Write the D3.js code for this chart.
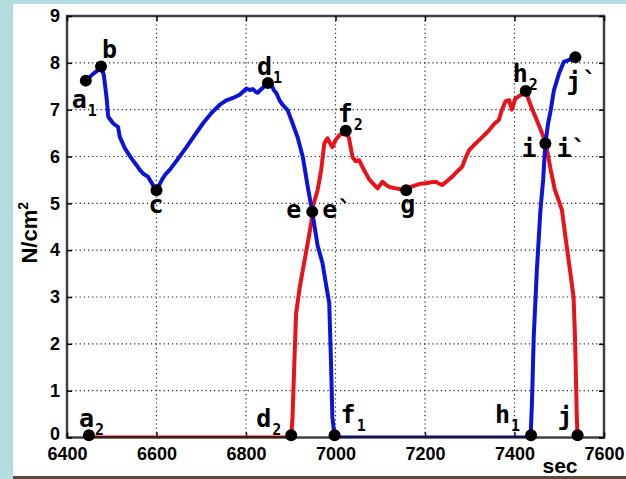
<!DOCTYPE html>
<html>
<head>
<meta charset="utf-8">
<script src="https://cdn.jsdelivr.net/npm/d3@7"></script>
<style>
  body { margin: 0; background: #fff; }
</style>
</head>
<body>
<div id="chart"></div>
<script>
// blue series (time in sec, pressure in N/cm2)
const blueTime = [6442, 6459, 6470, 6476, 6482, 6486, 6489, 6492, 6503, 6514, 6518, 6529, 6544, 6555, 6563, 6572, 6581, 6592, 6600, 6612, 6620, 6630, 6648, 6667, 6685, 6704, 6722, 6741, 6756, 6771, 6786, 6801, 6808, 6815, 6822, 6826, 6832, 6837, 6848, 6856, 6862, 6868, 6875, 6882, 6893, 6904, 6915, 6927, 6938, 6948, 6960, 6971, 6980, 6986, 6990, 6993, 6998, 7436, 7439, 7443, 7450, 7458, 7464, 7469, 7475, 7481, 7488, 7499, 7510, 7521, 7530, 7536];
const bluePressure = [7.62, 7.77, 7.85, 7.92, 7.75, 7.45, 7.2, 6.85, 6.71, 6.63, 6.42, 6.18, 5.96, 5.82, 5.71, 5.62, 5.57, 5.39, 5.28, 5.5, 5.62, 5.72, 5.95, 6.2, 6.45, 6.71, 6.92, 7.1, 7.2, 7.25, 7.32, 7.45, 7.42, 7.44, 7.38, 7.36, 7.42, 7.46, 7.57, 7.55, 7.42, 7.35, 7.2, 7.1, 6.99, 6.71, 6.42, 5.99, 5.35, 4.82, 4.1, 3.72, 3.2, 2.87, 1.59, 0.44, 0, 0, 0.74, 2.15, 3.58, 4.86, 5.5, 6.28, 6.7, 6.99, 7.41, 7.76, 8.02, 8.06, 8.08, 8.12];

// red series
const redTime = [6449, 6901, 6904, 6908, 6912, 6920, 6927, 6937, 6946, 6950, 6960, 6968, 6975, 6982, 6987, 6993, 7000, 7009, 7015, 7022, 7030, 7035, 7038, 7045, 7053, 7060, 7068, 7075, 7083, 7094, 7105, 7112, 7120, 7135, 7145, 7157, 7168, 7180, 7190, 7202, 7213, 7224, 7232, 7238, 7250, 7261, 7272, 7283, 7292, 7299, 7310, 7321, 7332, 7343, 7355, 7365, 7372, 7380, 7388, 7394, 7402, 7414, 7425, 7432, 7440, 7448, 7459, 7470, 7481, 7490, 7506, 7515, 7525, 7532, 7535, 7537, 7539, 7541];
const redPressure = [0, 0, 0.44, 1.59, 2.65, 3.2, 3.58, 4.1, 4.6, 4.95, 5.28, 5.71, 6.28, 6.39, 6.3, 6.2, 6.35, 6.46, 6.48, 6.56, 6.4, 6.14, 5.99, 5.9, 5.92, 5.78, 5.64, 5.52, 5.43, 5.32, 5.46, 5.4, 5.35, 5.32, 5.3, 5.28, 5.35, 5.39, 5.42, 5.43, 5.45, 5.46, 5.42, 5.39, 5.48, 5.57, 5.68, 5.78, 6.0, 6.14, 6.25, 6.35, 6.45, 6.56, 6.7, 6.78, 7.0, 7.18, 7.2, 7.0, 7.24, 7.31, 7.4, 7.2, 7.0, 6.82, 6.56, 6.28, 5.71, 5.3, 4.86, 4.2, 3.5, 3.0, 2.2, 1.44, 0.5, 0];

// marked points
const pointName = ["a", "b", "c", "d", "e", "f", "g", "h", "i", "j", "a", "d", "f", "h", "j"];
const pointSub = ["1", "", "", "1", "", "2", "", "2", "", "", "2", "2", "1", "1", ""];
const pointTime = [6442, 6476, 6600, 6849, 6948, 7023, 7158, 7425, 7469, 7536, 6449, 6901, 6998, 7437, 7541];
const pointValue = [7.62, 7.92, 5.28, 7.57, 4.82, 6.55, 5.28, 7.4, 6.28, 8.12, 0.05, 0.05, 0.05, 0.05, 0.05];
// extra primed labels next to the crossing / end points
const primeName = ["e`", "i`", "`"];
const primeOf = [4, 8, 9];

const xTicks = [6400, 6600, 6800, 7000, 7200, 7400, 7600];
const yTicks = [0, 1, 2, 3, 4, 5, 6, 7, 8, 9];

// label offsets (px from the dot)
const labelOffset = [[-14, 27], [1, -9], [-8, 23], [-11, -8], [-26, 6], [-8, -9], [-6, 23], [-13, -9], [-24, 14], [-9, 33], [-10, -8], [-35, -8], [6, -12], [-36, -12], [-20, -10]];
const primeOffset = [[10, 6], [11, 14], [7, 32]];

const dimensions = {
  width: 626,
  height: 479,
  left: 67,
  right: 604,
  top: 16,
  bottom: 437.5,
};

const svg = d3
  .select("#chart")
  .append("svg")
  .attr("width", dimensions.width)
  .attr("height", dimensions.height)
  .style("display", "block");

// figure frame
svg.append("rect").attr("width", dimensions.width).attr("height", dimensions.height).attr("fill", "#fff");
svg.append("rect").attr("width", 13).attr("height", dimensions.height).attr("fill", "#b3dde1");
svg.append("rect").attr("width", dimensions.width).attr("height", 4).attr("fill", "#b3dde1");
svg.append("rect").attr("x", 13).attr("y", 476).attr("width", dimensions.width - 13).attr("height", 3).attr("fill", "#5b4a3c");

const xScale = d3.scaleLinear().domain([6400, 7600]).range([dimensions.left, dimensions.right]);
const yScale = d3.scaleLinear().domain([0, 9]).range([dimensions.bottom, dimensions.top]);

// grid
const grid = svg.append("g").attr("stroke", "#222").attr("stroke-width", 1.2).attr("stroke-dasharray", "1.2,3");
grid
  .selectAll(".gx")
  .data(xTicks.slice(1, -1))
  .join("line")
  .attr("x1", (d) => xScale(d))
  .attr("x2", (d) => xScale(d))
  .attr("y1", dimensions.top)
  .attr("y2", dimensions.bottom);
grid
  .selectAll(".gy")
  .data(yTicks.slice(1, -1))
  .join("line")
  .attr("y1", (d) => yScale(d))
  .attr("y2", (d) => yScale(d))
  .attr("x1", dimensions.left)
  .attr("x2", dimensions.right);

// axes
const tickFont = "bold 18px 'Liberation Sans', Arial, sans-serif";
const xAxis = d3.axisBottom(xScale).tickValues(xTicks).tickSize(-5).tickPadding(10).tickFormat(d3.format("d"));
const xAxisGroup = svg
  .append("g")
  .attr("transform", `translate(0,${dimensions.bottom})`)
  .call(xAxis);
const yAxis = d3.axisLeft(yScale).tickValues(yTicks).tickSize(-5).tickPadding(7);
const yAxisGroup = svg
  .append("g")
  .attr("transform", `translate(${dimensions.left},0)`)
  .call(yAxis);
svg
  .append("g")
  .attr("transform", `translate(${dimensions.right},0)`)
  .call(d3.axisRight(yScale).tickValues(yTicks).tickSize(-5).tickFormat(""));
svg
  .append("g")
  .attr("transform", `translate(0,${dimensions.top})`)
  .call(d3.axisTop(xScale).tickValues(xTicks).tickSize(-5).tickFormat(""));
svg.selectAll(".domain").remove();
svg.selectAll(".tick line").attr("stroke", "#000").attr("stroke-width", 1.5);
[xAxisGroup, yAxisGroup].forEach((g) =>
  g.selectAll("text").style("font", tickFont).attr("fill", "#000")
);
xAxisGroup.selectAll("text").attr("dy", "0.72em");
yAxisGroup.select(".tick text").attr("dy", "0.1em");

// lines
const clip = svg.append("clipPath").attr("id", "plot-clip");
clip
  .append("rect")
  .attr("x", dimensions.left)
  .attr("y", dimensions.top)
  .attr("width", dimensions.right - dimensions.left)
  .attr("height", dimensions.bottom - dimensions.top);

const line = d3
  .line()
  .x((d) => xScale(d[0]))
  .y((d) => yScale(d[1]));

const lines = svg.append("g").attr("clip-path", "url(#plot-clip)").attr("fill", "none").attr("stroke-width", 4).attr("stroke-linejoin", "round");
lines.append("path").attr("d", line(d3.zip(redTime, redPressure))).attr("stroke", "#e8131a");
lines.append("path").attr("d", line(d3.zip(blueTime, bluePressure))).attr("stroke", "#0c14d8");

// plot box
svg
  .append("rect")
  .attr("x", dimensions.left)
  .attr("y", dimensions.top)
  .attr("width", dimensions.right - dimensions.left)
  .attr("height", dimensions.bottom - dimensions.top)
  .attr("fill", "none")
  .attr("stroke", "#000")
  .attr("stroke-opacity", 0.75)
  .attr("stroke-width", 2.5);

// dots
svg
  .append("g")
  .selectAll("circle")
  .data(pointTime)
  .join("circle")
  .attr("cx", (d) => xScale(d))
  .attr("cy", (d, i) => yScale(pointValue[i]))
  .attr("r", 6)
  .attr("fill", "#000");

// point labels
const labelFont = "'DejaVu Sans Mono', 'Liberation Mono', monospace";
const labels = svg
  .append("g")
  .style("font-family", labelFont)
  .style("font-weight", "bold")
  .attr("fill", "#000");
const lab = labels
  .selectAll("text.pt")
  .data(pointName)
  .join("text")
  .attr("class", "pt")
  .attr("x", (d, i) => xScale(pointTime[i]) + labelOffset[i][0])
  .attr("y", (d, i) => yScale(pointValue[i]) + labelOffset[i][1])
  .style("font-size", "25px");
lab.append("tspan").text((d) => d);
lab
  .append("tspan")
  .attr("dy", 8)
  .attr("dx", 1)
  .style("font-size", "15px")
  .text((d, i) => pointSub[i]);

labels
  .selectAll("text.pr")
  .data(primeName)
  .join("text")
  .attr("class", "pr")
  .attr("x", (d, i) => xScale(pointTime[primeOf[i]]) + primeOffset[i][0])
  .attr("y", (d, i) => yScale(pointValue[primeOf[i]]) + primeOffset[i][1])
  .style("font-size", "25px")
  .text((d) => d);

// axis titles
svg
  .append("text")
  .attr("x", 560)
  .attr("y", 473)
  .attr("text-anchor", "middle")
  .style("font-family", "'Liberation Sans', Arial, sans-serif")
  .style("font-weight", "bold")
  .style("font-size", "21px")
  .text("sec");

svg
  .append("text")
  .attr("transform", `translate(37,${(dimensions.top + dimensions.bottom) / 2 + 6}) rotate(-90)`)
  .attr("text-anchor", "middle")
  .style("font-family", "'Liberation Sans', Arial, sans-serif")
  .style("font-weight", "bold")
  .style("font-size", "22px")
  .html("N/cm<tspan dy='-9' font-size='14'>2</tspan>");
</script>
</body>
</html>
